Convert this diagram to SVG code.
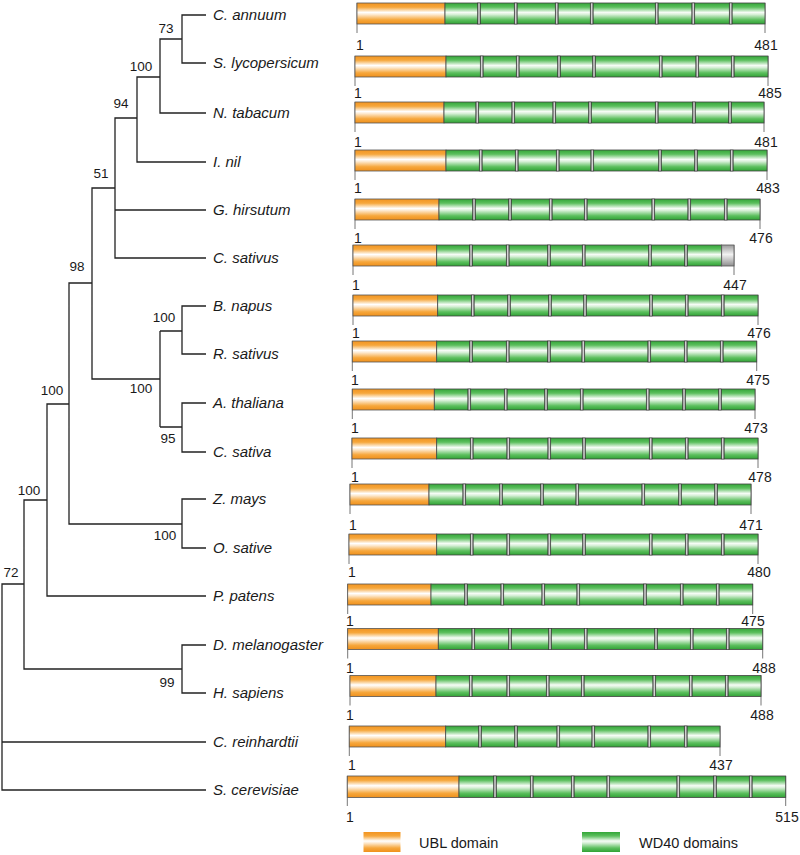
<svg xmlns="http://www.w3.org/2000/svg" width="800" height="855" viewBox="0 0 800 855">
<defs>
<linearGradient id="gOr" x1="0" y1="0" x2="0" y2="1">
<stop offset="0" stop-color="#f29420"/><stop offset="0.2" stop-color="#f6a73c"/><stop offset="0.45" stop-color="#ffffff"/><stop offset="0.55" stop-color="#fde9cf"/><stop offset="0.8" stop-color="#f6a73c"/><stop offset="1" stop-color="#ef901c"/>
</linearGradient>
<linearGradient id="gGr" x1="0" y1="0" x2="0" y2="1">
<stop offset="0" stop-color="#33a638"/><stop offset="0.2" stop-color="#5cbf5e"/><stop offset="0.45" stop-color="#f6fcf6"/><stop offset="0.55" stop-color="#d6efd6"/><stop offset="0.8" stop-color="#5cbf5e"/><stop offset="1" stop-color="#30a235"/>
</linearGradient>
<linearGradient id="gGy" x1="0" y1="0" x2="0" y2="1">
<stop offset="0" stop-color="#9a9a9a"/><stop offset="0.45" stop-color="#f2f2f2"/><stop offset="1" stop-color="#8f8f8f"/>
</linearGradient>
<linearGradient id="gDiv" x1="0" y1="0" x2="1" y2="0">
<stop offset="0" stop-color="#444"/><stop offset="0.5" stop-color="#e8e8e8"/><stop offset="1" stop-color="#444"/>
</linearGradient>
</defs>
<style>
.tl{fill:none;stroke:#222;stroke-width:1.3}
.bs{font-family:"Liberation Sans",Arial,sans-serif;font-size:13.5px;fill:#1a1a1a;text-anchor:middle}
.sp{font-family:"Liberation Sans",Arial,sans-serif;font-size:15px;font-style:italic;fill:#1a1a1a}
.num{font-family:"Liberation Sans",Arial,sans-serif;font-size:14px;fill:#1a1a1a}
.ne{text-anchor:middle}
.ubl{fill:url(#gOr);stroke:#555;stroke-width:0.8}
.wd{fill:url(#gGr);stroke:#444;stroke-width:0.8}
.gy{fill:url(#gGy);stroke:#555;stroke-width:0.8}
.dv{fill:url(#gDiv);stroke:#333;stroke-width:0.5}
.tk{stroke:#777;stroke-width:1;fill:none}
.lg{font-family:"Liberation Sans",Arial,sans-serif;font-size:14.5px;fill:#1a1a1a}
</style>

<g id="connectors">
<path class="tl" d="M206,15H182V63H206M182,39H160V113H206M160,77H137V162H206M137,118H115V258H206M115,210H206M115,188H92V379H160M160,331V427M182,331H160M160,427H182M206,306H182V354H206M206,403H182V452H206M92,283H69V524H182M206,499H182V548H206M69,404H47V596H206M47,500H24V669H182M206,645H182V693H206M24,584H2V790H206M2,742H206"/>
<text class="bs" x="166" y="33">73</text>
<text class="bs" x="141" y="71">100</text>
<text class="bs" x="121" y="108">94</text>
<text class="bs" x="101" y="178">51</text>
<text class="bs" x="77" y="271">98</text>
<text class="bs" x="164" y="322">100</text>
<text class="bs" x="141" y="393">100</text>
<text class="bs" x="168" y="443">95</text>
<text class="bs" x="52" y="395">100</text>
<text class="bs" x="165" y="540">100</text>
<text class="bs" x="29" y="495">100</text>
<text class="bs" x="11" y="577">72</text>
<text class="bs" x="167" y="687">99</text>
</g>

<g id="c-annuum">
<text class="sp" x="213" y="20">C. annuum</text>
<path class="tk" d="M357,3V33M765,3V33"/>
<rect class="ubl" x="357" y="3" width="88" height="21"/>
<rect class="wd" x="445" y="3" width="320" height="21"/>
<rect class="dv" x="477.5" y="3" width="3" height="21"/><rect class="dv" x="514.2" y="3" width="3" height="21"/><rect class="dv" x="555.2" y="3" width="3" height="21"/><rect class="dv" x="590.2" y="3" width="3" height="21"/><rect class="dv" x="655.2" y="3" width="3" height="21"/><rect class="dv" x="691.8" y="3" width="3" height="21"/><rect class="dv" x="729.2" y="3" width="3" height="21"/>
<text class="num" x="356" y="50">1</text><text class="num ne" x="766" y="50">481</text>
</g>

<g id="s-lycopersicum">
<text class="sp" x="213" y="68">S. lycopersicum</text>
<path class="tk" d="M355,56V86M768,56V86"/>
<rect class="ubl" x="355" y="56" width="91" height="21"/>
<rect class="wd" x="446" y="56" width="322" height="21"/>
<rect class="dv" x="480.2" y="56" width="3" height="21"/><rect class="dv" x="516.2" y="56" width="3" height="21"/><rect class="dv" x="557.5" y="56" width="3" height="21"/><rect class="dv" x="592.5" y="56" width="3" height="21"/><rect class="dv" x="659.2" y="56" width="3" height="21"/><rect class="dv" x="695.8" y="56" width="3" height="21"/><rect class="dv" x="731.2" y="56" width="3" height="21"/>
<text class="num" x="354" y="98">1</text><text class="num ne" x="770" y="98">485</text>
</g>

<g id="n-tabacum">
<text class="sp" x="213" y="118">N. tabacum</text>
<path class="tk" d="M355,102V132M764,102V132"/>
<rect class="ubl" x="355" y="102" width="89" height="21"/>
<rect class="wd" x="444" y="102" width="320" height="21"/>
<rect class="dv" x="475.8" y="102" width="3" height="21"/><rect class="dv" x="511.8" y="102" width="3" height="21"/><rect class="dv" x="552.8" y="102" width="3" height="21"/><rect class="dv" x="588.5" y="102" width="3" height="21"/><rect class="dv" x="655.2" y="102" width="3" height="21"/><rect class="dv" x="692.5" y="102" width="3" height="21"/><rect class="dv" x="728.5" y="102" width="3" height="21"/>
<text class="num" x="354" y="147">1</text><text class="num ne" x="766" y="147">481</text>
</g>

<g id="i-nil">
<text class="sp" x="213" y="167">I. nil</text>
<path class="tk" d="M355,150V180M767,150V180"/>
<rect class="ubl" x="355" y="150" width="91" height="21"/>
<rect class="wd" x="446" y="150" width="321" height="21"/>
<rect class="dv" x="479.2" y="150" width="3" height="21"/><rect class="dv" x="515.2" y="150" width="3" height="21"/><rect class="dv" x="556.2" y="150" width="3" height="21"/><rect class="dv" x="590.8" y="150" width="3" height="21"/><rect class="dv" x="658.5" y="150" width="3" height="21"/><rect class="dv" x="694.5" y="150" width="3" height="21"/><rect class="dv" x="730.2" y="150" width="3" height="21"/>
<text class="num" x="354" y="193">1</text><text class="num ne" x="768" y="193">483</text>
</g>

<g id="g-hirsutum">
<text class="sp" x="213" y="215">G. hirsutum</text>
<path class="tk" d="M355,199V229M760,199V229"/>
<rect class="ubl" x="355" y="199" width="84" height="21"/>
<rect class="wd" x="439" y="199" width="321" height="21"/>
<rect class="dv" x="472.5" y="199" width="3" height="21"/><rect class="dv" x="508.5" y="199" width="3" height="21"/><rect class="dv" x="549.2" y="199" width="3" height="21"/><rect class="dv" x="584.2" y="199" width="3" height="21"/><rect class="dv" x="651.8" y="199" width="3" height="21"/><rect class="dv" x="687.8" y="199" width="3" height="21"/><rect class="dv" x="724.2" y="199" width="3" height="21"/>
<text class="num" x="354" y="243">1</text><text class="num ne" x="761" y="243">476</text>
</g>

<g id="c-sativus">
<text class="sp" x="213" y="263">C. sativus</text>
<path class="tk" d="M353,245V275M734,245V275"/>
<rect class="ubl" x="353" y="245" width="83.7" height="21"/>
<rect class="wd" x="436.7" y="245" width="285" height="21"/>
<rect class="gy" x="721.7" y="245" width="12.3" height="21"/>
<rect class="dv" x="469.5" y="245" width="3" height="21"/><rect class="dv" x="506.2" y="245" width="3" height="21"/><rect class="dv" x="547.5" y="245" width="3" height="21"/><rect class="dv" x="582.2" y="245" width="3" height="21"/><rect class="dv" x="648.5" y="245" width="3" height="21"/><rect class="dv" x="684.5" y="245" width="3" height="21"/>
<text class="num" x="352" y="290">1</text><text class="num ne" x="735" y="290">447</text>
</g>

<g id="b-napus">
<text class="sp" x="213" y="311">B. napus</text>
<path class="tk" d="M353,295V325M758,295V325"/>
<rect class="ubl" x="353" y="295" width="84.7" height="21"/>
<rect class="wd" x="437.7" y="295" width="320.3" height="21"/>
<rect class="dv" x="471.2" y="295" width="3" height="21"/><rect class="dv" x="507.5" y="295" width="3" height="21"/><rect class="dv" x="548.5" y="295" width="3" height="21"/><rect class="dv" x="583.5" y="295" width="3" height="21"/><rect class="dv" x="649.5" y="295" width="3" height="21"/><rect class="dv" x="685.2" y="295" width="3" height="21"/><rect class="dv" x="721.2" y="295" width="3" height="21"/>
<text class="num" x="352" y="338">1</text><text class="num ne" x="759" y="338">476</text>
</g>

<g id="r-sativus">
<text class="sp" x="213" y="359">R. sativus</text>
<path class="tk" d="M352.3,341V371M756.7,341V371"/>
<rect class="ubl" x="352.3" y="341" width="84.4" height="21"/>
<rect class="wd" x="436.7" y="341" width="320" height="21"/>
<rect class="dv" x="469.5" y="341" width="3" height="21"/><rect class="dv" x="506.2" y="341" width="3" height="21"/><rect class="dv" x="547.5" y="341" width="3" height="21"/><rect class="dv" x="581.8" y="341" width="3" height="21"/><rect class="dv" x="647.8" y="341" width="3" height="21"/><rect class="dv" x="684.2" y="341" width="3" height="21"/><rect class="dv" x="720.2" y="341" width="3" height="21"/>
<text class="num" x="351" y="385">1</text><text class="num ne" x="758" y="385">475</text>
</g>

<g id="a-thaliana">
<text class="sp" x="213" y="408">A. thaliana</text>
<path class="tk" d="M352.3,389V419M755,389V419"/>
<rect class="ubl" x="352.3" y="389" width="82" height="21"/>
<rect class="wd" x="434.3" y="389" width="320.7" height="21"/>
<rect class="dv" x="467.8" y="389" width="3" height="21"/><rect class="dv" x="504.2" y="389" width="3" height="21"/><rect class="dv" x="544.5" y="389" width="3" height="21"/><rect class="dv" x="580.2" y="389" width="3" height="21"/><rect class="dv" x="646.2" y="389" width="3" height="21"/><rect class="dv" x="682.5" y="389" width="3" height="21"/><rect class="dv" x="718.5" y="389" width="3" height="21"/>
<text class="num" x="351" y="433">1</text><text class="num ne" x="756" y="433">473</text>
</g>

<g id="c-sativa">
<text class="sp" x="213" y="457">C. sativa</text>
<path class="tk" d="M352,438V468M758,438V468"/>
<rect class="ubl" x="352" y="438" width="84.7" height="21"/>
<rect class="wd" x="436.7" y="438" width="321.3" height="21"/>
<rect class="dv" x="470.2" y="438" width="3" height="21"/><rect class="dv" x="506.8" y="438" width="3" height="21"/><rect class="dv" x="547.8" y="438" width="3" height="21"/><rect class="dv" x="582.5" y="438" width="3" height="21"/><rect class="dv" x="649.2" y="438" width="3" height="21"/><rect class="dv" x="685.2" y="438" width="3" height="21"/><rect class="dv" x="721.2" y="438" width="3" height="21"/>
<text class="num" x="351" y="481.5">1</text><text class="num ne" x="760" y="481.5">478</text>
</g>

<g id="z-mays">
<text class="sp" x="213" y="504">Z. mays</text>
<path class="tk" d="M350,484V514M751,484V514"/>
<rect class="ubl" x="350" y="484" width="79" height="21"/>
<rect class="wd" x="429" y="484" width="322" height="21"/>
<rect class="dv" x="462.8" y="484" width="3" height="21"/><rect class="dv" x="499.5" y="484" width="3" height="21"/><rect class="dv" x="540.5" y="484" width="3" height="21"/><rect class="dv" x="575.8" y="484" width="3" height="21"/><rect class="dv" x="641.8" y="484" width="3" height="21"/><rect class="dv" x="678.5" y="484" width="3" height="21"/><rect class="dv" x="714.5" y="484" width="3" height="21"/>
<text class="num" x="349" y="530">1</text><text class="num ne" x="751" y="530">471</text>
</g>

<g id="o-sative">
<text class="sp" x="213" y="553">O. sative</text>
<path class="tk" d="M349,534V564M758,534V564"/>
<rect class="ubl" x="349" y="534" width="87.7" height="21"/>
<rect class="wd" x="436.7" y="534" width="321.3" height="21"/>
<rect class="dv" x="470.2" y="534" width="3" height="21"/><rect class="dv" x="506.8" y="534" width="3" height="21"/><rect class="dv" x="547.8" y="534" width="3" height="21"/><rect class="dv" x="582.5" y="534" width="3" height="21"/><rect class="dv" x="649.2" y="534" width="3" height="21"/><rect class="dv" x="685.2" y="534" width="3" height="21"/><rect class="dv" x="721.2" y="534" width="3" height="21"/>
<text class="num" x="348" y="576.7">1</text><text class="num ne" x="759" y="576.7">480</text>
</g>

<g id="p-patens">
<text class="sp" x="213" y="601">P. patens</text>
<path class="tk" d="M347.7,584V614M752.7,584V614"/>
<rect class="ubl" x="347.7" y="584" width="83.3" height="21"/>
<rect class="wd" x="431" y="584" width="321.7" height="21"/>
<rect class="dv" x="464.5" y="584" width="3" height="21"/><rect class="dv" x="500.8" y="584" width="3" height="21"/><rect class="dv" x="541.8" y="584" width="3" height="21"/><rect class="dv" x="576.8" y="584" width="3" height="21"/><rect class="dv" x="643.5" y="584" width="3" height="21"/><rect class="dv" x="680.2" y="584" width="3" height="21"/><rect class="dv" x="716.2" y="584" width="3" height="21"/>
<text class="num" x="346" y="626">1</text><text class="num ne" x="753" y="626">475</text>
</g>

<g id="d-melanogaster">
<text class="sp" x="213" y="650">D. melanogaster</text>
<path class="tk" d="M347.7,628.5V658.5M762.7,628.5V658.5"/>
<rect class="ubl" x="347.7" y="628.5" width="90.6" height="21"/>
<rect class="wd" x="438.3" y="628.5" width="324.4" height="21"/>
<rect class="dv" x="471.8" y="628.5" width="3" height="21"/><rect class="dv" x="508.5" y="628.5" width="3" height="21"/><rect class="dv" x="548.5" y="628.5" width="3" height="21"/><rect class="dv" x="584.2" y="628.5" width="3" height="21"/><rect class="dv" x="654.5" y="628.5" width="3" height="21"/><rect class="dv" x="690.2" y="628.5" width="3" height="21"/><rect class="dv" x="726.2" y="628.5" width="3" height="21"/>
<text class="num" x="346" y="673">1</text><text class="num ne" x="764" y="673">488</text>
</g>

<g id="h-sapiens">
<text class="sp" x="213" y="698">H. sapiens</text>
<path class="tk" d="M350,675.5V705.5M761,675.5V705.5"/>
<rect class="ubl" x="350" y="675.5" width="86" height="21"/>
<rect class="wd" x="436" y="675.5" width="325" height="21"/>
<rect class="dv" x="469.2" y="675.5" width="3" height="21"/><rect class="dv" x="506.8" y="675.5" width="3" height="21"/><rect class="dv" x="546.2" y="675.5" width="3" height="21"/><rect class="dv" x="581.2" y="675.5" width="3" height="21"/><rect class="dv" x="652.8" y="675.5" width="3" height="21"/><rect class="dv" x="689.2" y="675.5" width="3" height="21"/><rect class="dv" x="725.2" y="675.5" width="3" height="21"/>
<text class="num" x="346" y="720">1</text><text class="num ne" x="762" y="720">488</text>
</g>

<g id="c-reinhardtii">
<text class="sp" x="213" y="747">C. reinhardtii</text>
<path class="tk" d="M349.3,726V756M720,726V756"/>
<rect class="ubl" x="349.3" y="726" width="96.4" height="21"/>
<rect class="wd" x="445.7" y="726" width="274.3" height="21"/>
<rect class="dv" x="478.5" y="726" width="3" height="21"/><rect class="dv" x="514.5" y="726" width="3" height="21"/><rect class="dv" x="556.8" y="726" width="3" height="21"/><rect class="dv" x="591.8" y="726" width="3" height="21"/><rect class="dv" x="647.8" y="726" width="3" height="21"/><rect class="dv" x="684.2" y="726" width="3" height="21"/>
<text class="num" x="348" y="770">1</text><text class="num ne" x="721" y="770">437</text>
</g>

<g id="s-cerevisiae">
<text class="sp" x="213" y="795">S. cerevisiae</text>
<path class="tk" d="M347.3,776V806M785.7,776V806"/>
<rect class="ubl" x="347.3" y="776" width="111.7" height="21.5"/>
<rect class="wd" x="459" y="776" width="326.7" height="21.5"/>
<rect class="dv" x="493.5" y="776" width="3" height="21.5"/><rect class="dv" x="530.2" y="776" width="3" height="21.5"/><rect class="dv" x="571.2" y="776" width="3" height="21.5"/><rect class="dv" x="606.8" y="776" width="3" height="21.5"/><rect class="dv" x="676.8" y="776" width="3" height="21.5"/><rect class="dv" x="713.5" y="776" width="3" height="21.5"/><rect class="dv" x="749.2" y="776" width="3" height="21.5"/>
<text class="num" x="346" y="821.7">1</text><text class="num ne" x="787" y="821.7">515</text>
</g>

<g id="legend">
<rect x="363.5" y="832" width="37" height="20" fill="url(#gOr)"/>
<text class="lg" x="419" y="848">UBL domain</text>
<rect x="582" y="832" width="38" height="20" fill="url(#gGr)"/>
<text class="lg" x="639" y="848">WD40 domains</text>
</g>
</svg>
